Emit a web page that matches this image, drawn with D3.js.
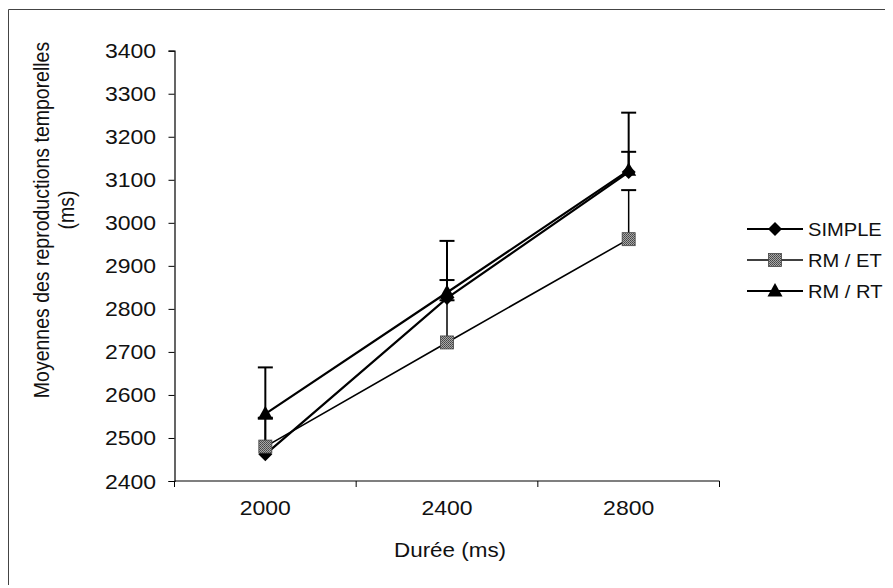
<!DOCTYPE html>
<html>
<head>
<meta charset="utf-8">
<script src="https://cdn.jsdelivr.net/npm/d3@7"></script>
<style>
  body { margin: 0; background: #fff; }
  svg { display: block; font-family: "Liberation Sans", Arial, sans-serif; }
</style>
</head>
<body>
<div id="chart"></div>
<script>
const durations = ["2000", "2400", "2800"];
const seriesNames = ["SIMPLE", "RM / ET", "RM / RT"];
const simpleValues = [2462, 2825, 3118];
const rmEtValues = [2480, 2722, 2962];
const rmRtValues = [2556, 2838, 3122];
// tops of the (upper-only) error bars
const simpleErrTop = [2545, 2867, 3165];
const rmEtErrTop = [2547, 2820, 3076];
const rmRtErrTop = [2664, 2958, 3256];
const yTicks = [2400, 2500, 2600, 2700, 2800, 2900, 3000, 3100, 3200, 3300, 3400];

const W = 893, H = 588;
const stretch = 1.15;

const svg = d3.select("#chart").append("svg")
    .attr("width", W).attr("height", H);

const defs = svg.append("defs");
const pat = defs.append("pattern")
    .attr("id", "dither").attr("width", 2).attr("height", 2)
    .attr("patternUnits", "userSpaceOnUse");
pat.append("rect").attr("width", 2).attr("height", 2).attr("fill", "#a8a8a8");
pat.append("rect").attr("width", 1).attr("height", 1).attr("fill", "#444");
pat.append("rect").attr("x", 1).attr("y", 1).attr("width", 1).attr("height", 1).attr("fill", "#555");

// outer frame (top and left are visible)
svg.append("path")
    .attr("d", "M8.5,585 L8.5,9.5 L885,9.5")
    .attr("fill", "none").attr("stroke", "#444").attr("stroke-width", 1);

const x = d3.scaleBand().domain(durations).range([174.5, 719.5]).padding(0);
const y = d3.scaleLinear().domain([2400, 3400]).range([481, 50.7]);

// axes
const yAxis = svg.append("g")
    .attr("transform", "translate(174.5,0)")
    .call(d3.axisLeft(y).tickValues(yTicks).tickSize(6).tickPadding(10).tickFormat(d3.format("d")));
const xAxis = svg.append("g")
    .attr("transform", "translate(0,481)")
    .call(d3.axisBottom(x).tickSize(0).tickPadding(20));

// x tick marks at band edges
svg.append("g").selectAll("line")
    .data(durations.concat(["end"]))
    .join("line")
    .attr("x1", (d, i) => i < durations.length ? x(d) : x.range()[1])
    .attr("x2", (d, i) => i < durations.length ? x(d) : x.range()[1])
    .attr("y1", 481).attr("y2", 487)
    .attr("stroke", "#000");

[yAxis, xAxis].forEach(g => {
    g.select(".domain").attr("stroke", "#000").attr("stroke-width", 1.2);
    g.selectAll(".tick line").attr("stroke", "#000");
    g.selectAll(".tick text")
        .attr("fill", "#111")
        .style("font-size", "20px")
        .attr("transform", `scale(${stretch},1)`);
});
yAxis.selectAll(".tick text").attr("dy", "0.35em");
xAxis.select(".domain").attr("d", `M174.5,0H719.5`);

// axis titles
svg.append("text")
    .attr("transform", `translate(394,557) scale(${stretch},1)`)
    .style("font-size", "19.5px").attr("fill", "#111")
    .text("Durée (ms)");

const yTitle = svg.append("g")
    .attr("transform", `translate(49,220) scale(${stretch},1) rotate(-90)`);
yTitle.append("text")
    .attr("text-anchor", "middle")
    .style("font-size", "19.5px").attr("fill", "#111")
    .text("Moyennes des reproductions temporelles");
yTitle.append("text")
    .attr("text-anchor", "middle")
    .attr("x", 10).attr("y", 22)
    .style("font-size", "19.5px").attr("fill", "#111")
    .text("(ms)");

const series = [
    { name: seriesNames[0], values: simpleValues, errTop: simpleErrTop, shape: "diamond", width: 2.2, color: "#000" },
    { name: seriesNames[1], values: rmEtValues, errTop: rmEtErrTop, shape: "square", width: 1.6, color: "#000" },
    { name: seriesNames[2], values: rmRtValues, errTop: rmRtErrTop, shape: "triangle", width: 2.2, color: "#000" }
];

function drawMarker(g, shape, cx, cy) {
    if (shape === "diamond") {
        g.append("path")
            .attr("d", `M${cx},${cy - 7} L${cx + 7},${cy} L${cx},${cy + 7} L${cx - 7},${cy} Z`)
            .attr("fill", "#000");
    } else if (shape === "square") {
        g.append("rect")
            .attr("x", cx - 6.5).attr("y", cy - 6.5).attr("width", 13).attr("height", 13)
            .attr("fill", "url(#dither)").attr("stroke", "#444").attr("stroke-width", 0.8);
    } else {
        g.append("path")
            .attr("d", `M${cx},${cy - 8} L${cx + 7.5},${cy + 5.5} L${cx - 7.5},${cy + 5.5} Z`)
            .attr("fill", "#000");
    }
}

const cx = d => x(d) + x.bandwidth() / 2;
const line = d3.line().x(d => cx(d.k)).y(d => y(d.v));

const plot = svg.append("g");
series.forEach(s => {
    const g = plot.append("g");
    const pts = durations.map((k, i) => ({ k: k, v: s.values[i], top: s.errTop[i] }));
    // error bars (plus direction only)
    pts.forEach(p => {
        g.append("line")
            .attr("x1", cx(p.k)).attr("x2", cx(p.k))
            .attr("y1", y(p.v)).attr("y2", y(p.top))
            .attr("stroke", s.color).attr("stroke-width", s.width > 2 ? 2 : 1.5);
        g.append("line")
            .attr("x1", cx(p.k) - 7.5).attr("x2", cx(p.k) + 7.5)
            .attr("y1", y(p.top)).attr("y2", y(p.top))
            .attr("stroke", s.color).attr("stroke-width", 2);
    });
    g.append("path")
        .datum(pts)
        .attr("d", line)
        .attr("fill", "none")
        .attr("stroke", s.color)
        .attr("stroke-width", s.width);
    pts.forEach(p => drawMarker(g, s.shape, cx(p.k), y(p.v)));
});

// legend
const legendY = [229, 260, 291];
const legend = svg.append("g");
series.forEach((s, i) => {
    const g = legend.append("g");
    g.append("line")
        .attr("x1", 747).attr("x2", 803)
        .attr("y1", legendY[i]).attr("y2", legendY[i])
        .attr("stroke", s.color).attr("stroke-width", s.width);
    drawMarker(g, s.shape, 775, legendY[i]);
    g.append("text")
        .attr("transform", `translate(808,${legendY[i] + 6.5}) scale(${stretch},1)`)
        .style("font-size", "17.5px").attr("fill", "#111")
        .text(s.name);
});
</script>
</body>
</html>
